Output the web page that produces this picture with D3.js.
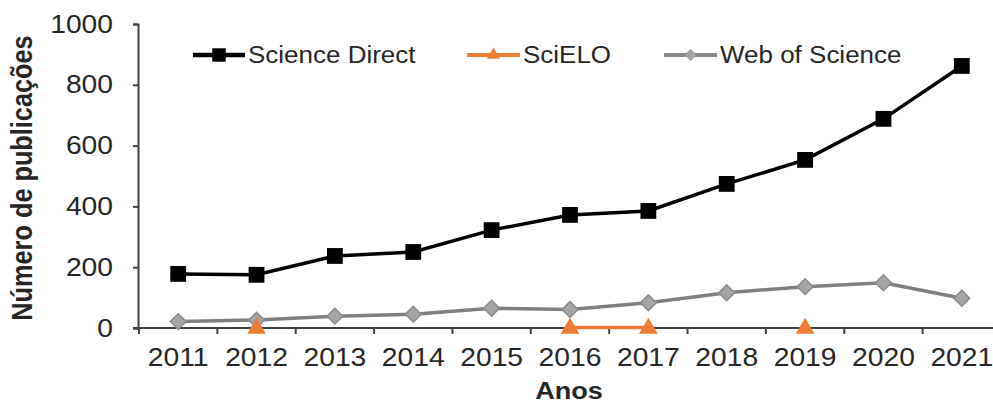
<!DOCTYPE html>
<html><head><meta charset="utf-8">
<script src="https://cdn.jsdelivr.net/npm/d3@7"></script>
<style>body{margin:0;background:#fff}svg{display:block}text{font-family:"Liberation Sans",Arial,sans-serif;fill:#262626}</style>
</head><body><svg id="c" width="993" height="405"></svg>
<script>
const years = ["2011","2012","2013","2014","2015","2016","2017","2018","2019","2020","2021"];
const scienceDirect = [178,175,237,250,322,372,385,474,553,688,862];
const scielo = [null,2,null,null,null,2,2,null,2,null,null];
const webOfScience = [21,26,39,45,65,61,83,116,136,149,98];
const yTicks = [0,200,400,600,800,1000];
const seriesNames = ["Science Direct","SciELO","Web of Science"];

const SX = 1.13;
const svg = d3.select("#c");
const x = d3.scaleBand().domain(years).range([139,1001]).padding(0);
const y = d3.scaleLinear().domain([0,1000]).range([328,24]);
const cx = d => x(d) + x.bandwidth()/2;

// y axis
const ya = svg.append("g").attr("transform","translate(138,0)")
  .call(d3.axisLeft(y).tickValues(yTicks).tickSize(5).tickPadding(20).tickFormat(d3.format("d")));
ya.select(".domain").attr("stroke","#404040").attr("stroke-width",2);
ya.selectAll(".tick line").attr("stroke","#404040").attr("stroke-width",2);
ya.selectAll(".tick text").attr("font-size",25).attr("fill","#262626")
  .each(function(){const t=d3.select(this);const xx=+t.attr("x");t.attr("x",0).attr("transform",`translate(${xx},0) scale(${SX},1)`);});

// x axis
const xa = svg.append("g").attr("transform","translate(0,328)")
  .call(d3.axisBottom(x).tickSize(0).tickPadding(20));
xa.select(".domain").remove();
xa.append("line").attr("x1",133).attr("x2",993).attr("stroke","#404040").attr("stroke-width",2);
xa.selectAll(".tick text").attr("font-size",25).attr("fill","#262626")
  .each(function(){const t=d3.select(this);t.attr("transform",`scale(${SX},1)`);});
xa.selectAll(".bt").data(years).enter().append("line").attr("class","bt")
  .attr("x1",d=>x(d)).attr("x2",d=>x(d)).attr("y1",0).attr("y2",6)
  .attr("stroke","#404040").attr("stroke-width",2);

// titles
svg.append("text").attr("transform",`translate(32,178) rotate(-90) scale(1,${SX})`)
  .attr("text-anchor","middle").attr("font-size",25.3).attr("font-weight","bold").attr("fill","#0d0d0d")
  .text("Número de publicações");
svg.append("text").attr("transform",`translate(569,399) scale(${SX},1)`)
  .attr("text-anchor","middle").attr("font-size",24).attr("font-weight","bold").attr("fill","#0d0d0d")
  .text("Anos");

// series
const pts = arr => years.map((yr,i)=>({yr,v:arr[i]}));
const line = d3.line().defined(d=>d.v!==null).x(d=>cx(d.yr)).y(d=>y(d.v));

svg.append("path").datum(pts(webOfScience)).attr("d",line).attr("fill","none").attr("stroke","#7f7f7f").attr("stroke-width",3.5);
svg.append("path").datum(pts(scielo)).attr("d",line).attr("fill","none").attr("stroke","#ed7d31").attr("stroke-width",3.5);
svg.append("path").datum(pts(scienceDirect)).attr("d",line).attr("fill","none").attr("stroke","#000").attr("stroke-width",3.5);

const sq = d3.symbol().type(d3.symbolSquare).size(250);
const tri = d3.symbol().type(d3.symbolTriangle).size(150);
const dia = d3.symbol().type(d3.symbolSquare).size(125);

svg.append("g").selectAll("path").data(pts(webOfScience)).enter().append("path")
  .attr("d",dia).attr("transform",d=>`translate(${cx(d.yr)},${y(d.v)}) rotate(45)`)
  .attr("fill","#a5a5a5").attr("stroke","#8a8a8a").attr("stroke-width",1.5);
svg.append("g").selectAll("path").data(pts(scielo).filter(d=>d.v!==null)).enter().append("path")
  .attr("d",tri).attr("transform",d=>`translate(${cx(d.yr)},${y(d.v)+1})`)
  .attr("fill","#ed7d31");
svg.append("g").selectAll("path").data(pts(scienceDirect)).enter().append("path")
  .attr("d",sq).attr("transform",d=>`translate(${cx(d.yr)},${y(d.v)})`)
  .attr("fill","#000");

// legend
const leg = [
  {name:seriesNames[0],x0:193,x1:245,color:"#000",sym:sq,fill:"#000",stroke:"none",s:0.85,r:0,w:4.5},
  {name:seriesNames[1],x0:467,x1:520,color:"#ed7d31",sym:tri,fill:"#ed7d31",stroke:"none",s:0.7,r:0,w:4},
  {name:seriesNames[2],x0:664,x1:717,color:"#8a8a8a",sym:dia,fill:"#a5a5a5",stroke:"#8a8a8a",s:0.7,r:45,w:4}
];
const lg = svg.append("g");
leg.forEach(l=>{
  const g = lg.append("g");
  g.append("line").attr("x1",l.x0).attr("x2",l.x1).attr("y1",55).attr("y2",55).attr("stroke",l.color).attr("stroke-width",l.w);
  g.append("path").attr("d",l.sym).attr("transform",`translate(${(l.x0+l.x1)/2},55) rotate(${l.r}) scale(${l.s})`)
    .attr("fill",l.fill).attr("stroke",l.stroke);
  g.append("text").attr("transform",`translate(${l.x1+3},63) scale(${SX},1)`).attr("font-size",23).attr("fill","#262626").text(l.name);
});
</script></body></html>
